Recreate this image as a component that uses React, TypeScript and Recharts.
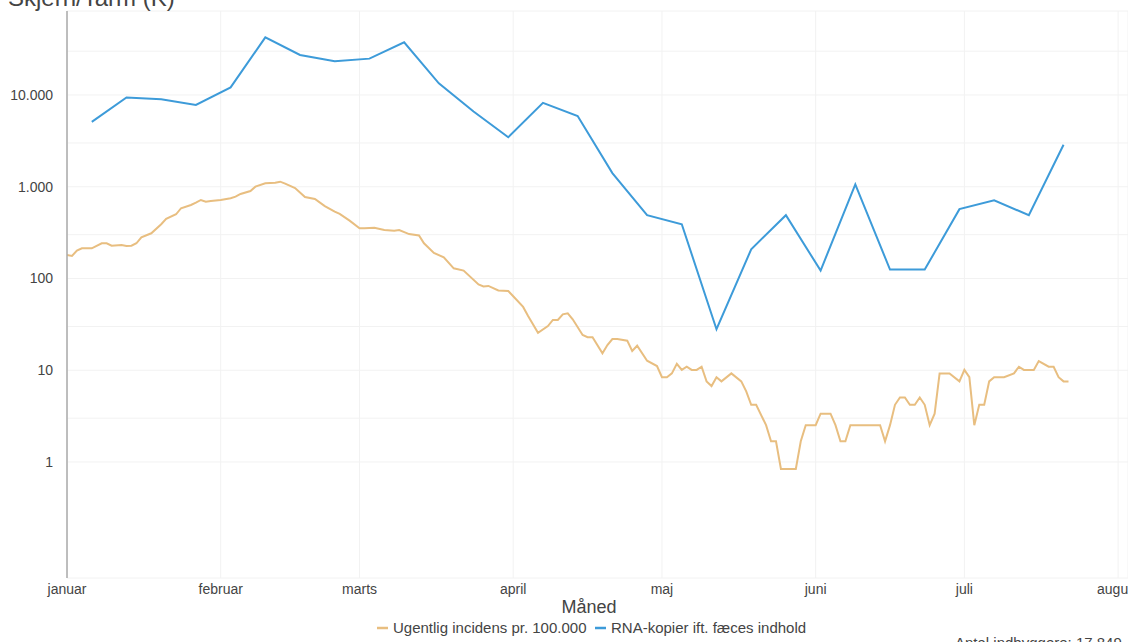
import React from "react";
import { LineChart, Line, XAxis, YAxis, CartesianGrid } from "recharts";

// x values are days since 1 January
const monthStarts = [0, 31, 59, 90, 120, 151, 181, 212];
const monthLabels = ["januar", "februar", "marts", "april", "maj", "juni", "juli", "august"];

const yTicks = [1, 3, 10, 30, 100, 300, 1000, 3000, 10000, 30000];

// RNA-kopier ift. fæces indhold (weekly)
const rnaDays = [5, 12, 19, 26, 33, 40, 47, 54, 61, 68, 75, 82, 89, 96, 103, 110, 117, 124, 131, 138, 145, 152, 159, 166, 173, 180, 187, 194, 201];
const rnaValues = [5100, 9400, 9000, 7800, 12100, 42500, 27300, 23300, 24900, 37500, 13400, 6600, 3460, 8200, 5900, 1410, 490, 390, 28, 208, 490, 122, 1060, 125, 125, 570, 710, 490, 2870];

// Ugentlig incidens pr. 100.000 (daily)
const incDays = [
  0, 1, 2, 3, 5, 7, 8, 9, 11, 12, 13, 14, 15, 17, 19, 20, 22, 23, 25, 26, 27, 28, 29, 31, 33, 34, 35, 37, 38, 40,
  42, 43, 44, 46, 48, 50, 52, 54, 55, 57, 59, 60, 62, 64, 66, 67, 69, 71, 72, 74, 76, 78, 80, 83, 84, 85, 87, 89, 90, 92,
  93, 95, 97, 98, 99, 100, 101, 102, 104, 105, 106, 108, 109, 110, 111, 113, 114, 115, 117, 119, 120, 121, 122, 123, 124, 125, 126, 127, 128, 129,
  130, 131, 132, 134, 136, 137, 138, 139, 141, 142, 143, 144, 147, 148, 149, 151, 152, 154, 155, 156, 157, 158, 164, 165, 166, 167, 168, 169, 170, 171,
  172, 173, 174, 175, 176, 178, 180, 181, 182, 183, 184, 185, 186, 187, 189, 191, 192, 193, 195, 196, 198, 199, 200, 201, 202,
];
const incValues = [
  180, 176, 201, 213, 213, 242, 242, 228, 232, 226, 228, 242, 281, 311, 390, 446, 501, 583, 633, 670, 717, 687, 699, 717, 748, 779, 834, 899, 1002, 1091,
  1107, 1135, 1081, 969, 773, 735, 616, 535, 505, 427, 353, 353, 358, 338, 332, 338, 305, 294, 242, 190, 170, 129, 122, 86, 82, 83, 74, 73, 64, 49,
  39, 25.6, 30.3, 35.3, 35.3, 40.7, 41.8, 35.9, 24.2, 22.9, 22.9, 15.3, 18.8, 21.9, 21.9, 21.0, 16.2, 18.5, 12.7, 11.1, 8.4, 8.4, 9.24, 11.76, 10.08, 10.92, 10.08, 10.08, 10.92, 7.56,
  6.72, 8.4, 7.56, 9.24, 7.56, 5.88, 4.2, 4.2, 2.52, 1.68, 1.68, 0.84, 0.84, 1.68, 2.52, 2.52, 3.36, 3.36, 2.52, 1.68, 1.68, 2.52, 2.52, 1.68, 2.52, 4.2, 5.04, 5.04, 4.2, 4.2,
  5.04, 4.2, 2.52, 3.36, 9.24, 9.24, 7.56, 10.08, 8.4, 2.52, 4.2, 4.2, 7.56, 8.4, 8.4, 9.24, 10.92, 10.08, 10.08, 12.6, 10.92, 10.92, 8.4, 7.56, 7.56,
];

const series = [
  { name: "Ugentlig incidens pr. 100.000", color: "#e8be80" },
  { name: "RNA-kopier ift. fæces indhold", color: "#3d9bd9" },
];

const incData = incDays.map((d, i) => ({ day: d, value: incValues[i] }));
const rnaData = rnaDays.map((d, i) => ({ day: d, value: rnaValues[i] }));

const font = "'Liberation Sans', Arial, sans-serif";
const textColor = "#444";

function fmtY(v: number) {
  const lg = Math.log10(v);
  if (Math.abs(lg - Math.round(lg)) > 1e-6) return "";
  return String(Math.round(v)).replace(/\B(?=(\d{3})+(?!\d))/g, ".");
}

function MonthTick(props: any) {
  const { x, y, payload } = props;
  return (
    <text x={x} y={y + 10} textAnchor="middle" fontSize={14} fill={textColor} fontFamily={font}>
      {monthLabels[monthStarts.indexOf(payload.value)]}
    </text>
  );
}

export default function App() {
  return (
    <div style={{ position: "absolute", left: 0, top: 0, width: 1128, height: 642, overflow: "hidden", background: "#fff", fontFamily: font }}>
      <LineChart width={1128} height={642} margin={{ top: 11, right: 0, left: 0, bottom: 34 }}>
        <CartesianGrid stroke="#f2f2f2" strokeWidth={1} />
        <XAxis
          dataKey="day"
          type="number"
          domain={[0, 214]}
          ticks={monthStarts}
          interval={0}
          axisLine={false}
          tickLine={false}
          tickMargin={0}
          height={30}
          tick={<MonthTick />}
          allowDataOverflow
        />
        <YAxis
          type="number"
          scale="log"
          domain={[0.0544, 82300]}
          ticks={yTicks}
          tickFormatter={fmtY}
          allowDataOverflow
          width={67}
          tickLine={false}
          tickMargin={8}
          axisLine={{ stroke: "#aaa", strokeWidth: 1.5 }}
          tick={{ fill: textColor, fontSize: 14, fontFamily: font }}
        />
        <Line data={incData} dataKey="value" type="linear" stroke={series[0].color} strokeWidth={2} dot={false} isAnimationActive={false} />
        <Line data={rnaData} dataKey="value" type="linear" stroke={series[1].color} strokeWidth={2} dot={false} isAnimationActive={false} />
      </LineChart>
      <svg width={1128} height={642} style={{ position: "absolute", left: 0, top: 0, pointerEvents: "none" }}>
        <text x={8} y={6} fontSize={24} fill={textColor} fontFamily={font}>Skjern/Tarm (K)</text>
        <text x={589} y={613} fontSize={18} fill={textColor} fontFamily={font} textAnchor="middle">Måned</text>
        <line x1={377} x2={388} y1={628} y2={628} stroke={series[0].color} strokeWidth={2.5} />
        <text x={393} y={633} fontSize={15} fill={textColor} fontFamily={font}>{series[0].name}</text>
        <line x1={595} x2={606} y1={628} y2={628} stroke={series[1].color} strokeWidth={2.5} />
        <text x={611} y={633} fontSize={15} fill={textColor} fontFamily={font}>{series[1].name}</text>
        <text x={955} y={648} fontSize={15} fill={textColor} fontFamily={font}>Antal indbyggere: 17.849</text>
      </svg>
    </div>
  );
}
